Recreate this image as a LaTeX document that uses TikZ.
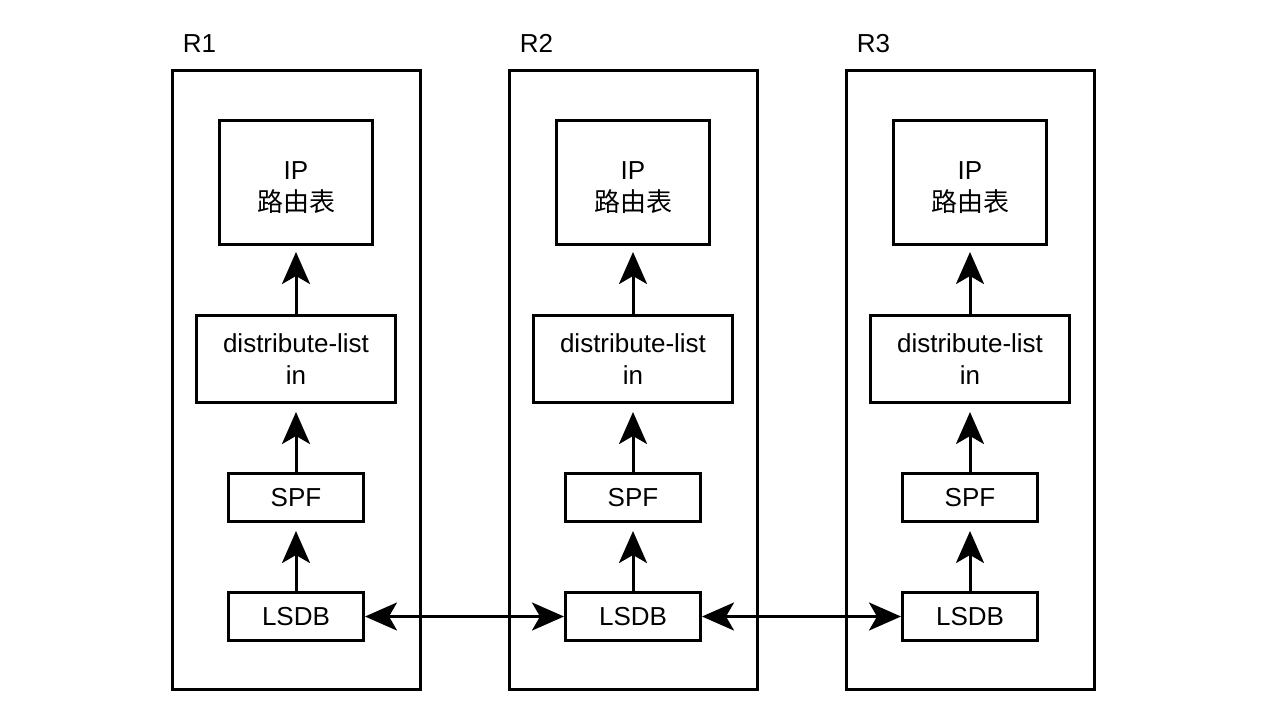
\documentclass[tikz,border=0pt]{standalone}
\usepackage{fontspec}
\setmainfont{Liberation Sans}
\newfontfamily\cjk{Noto Sans CJK SC}
\usetikzlibrary{arrows.meta,positioning}
\tikzset{box/.style={draw,line width=1.5pt,align=center,inner sep=0pt},
  flow/.style={->,line width=1.5pt}}

\begin{document}
\begin{tikzpicture}[x=0.5pt,y=-0.5pt,>={Stealth[length=16pt,width=14pt,inset=4pt]},node distance=34pt,font=\fontsize{13}{16}\selectfont]
\useasboundingbox (0,0) rectangle (1268,712);
\foreach \i/\x in {1/296,2/633,3/970}{
  \node[box,minimum width=124pt,minimum height=309.5pt] (r\i) at (\x,379.5) {};
  \node[anchor=base west,inner sep=0pt] (lbl\i) at ([xshift=6pt,yshift=8pt]r\i.north west) {R\i};
  \node[box,minimum width=67.5pt,minimum height=24pt] (lsdb\i) at (\x,616.5) {LSDB};
  \node[box,minimum width=67.5pt,minimum height=24pt,above=of lsdb\i] (spf\i) {SPF};
  \node[box,minimum width=99.5pt,minimum height=43.5pt,above=of spf\i] (dl\i) {distribute-list\\in};
  \node[box,minimum width=76.5pt,minimum height=62pt,above=of dl\i] (ip\i) {\rule{0pt}{14pt}IP\\{\cjk 路由表}};
  \draw[flow,shorten >=4pt] (lsdb\i) -- (spf\i);
  \draw[flow,shorten >=4pt] (spf\i) -- (dl\i);
  \draw[flow,shorten >=3pt] (dl\i) -- (ip\i);
}
\draw[flow,<->] (lsdb1) -- (lsdb2);
\draw[flow,<->] (lsdb2) -- (lsdb3);
\end{tikzpicture}
\end{document}
